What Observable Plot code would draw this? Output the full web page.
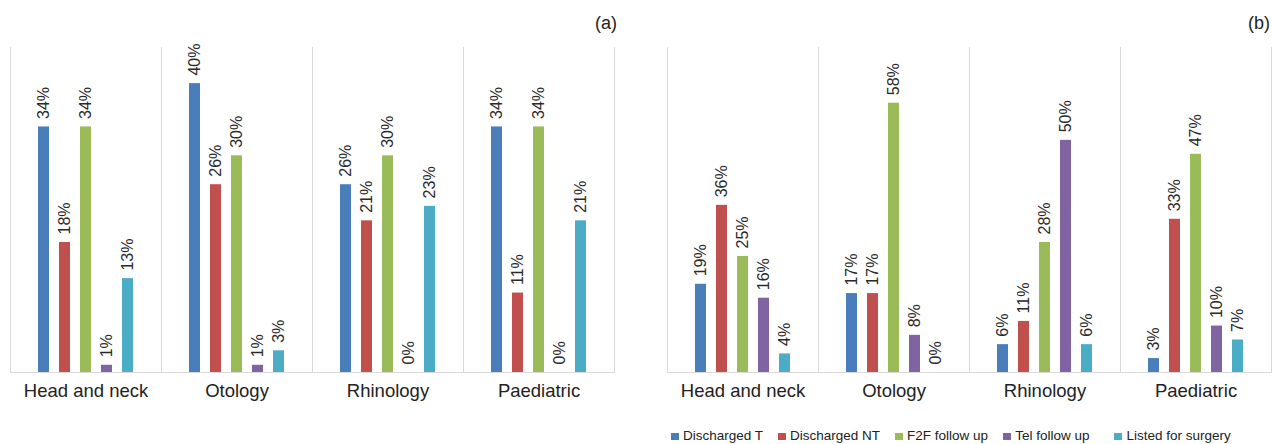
<!DOCTYPE html>
<html>
<head>
<meta charset="utf-8">
<script src="https://cdn.jsdelivr.net/npm/d3@7"></script>
<script src="https://cdn.jsdelivr.net/npm/@observablehq/plot@0.6"></script>
<style>
  html, body { margin: 0; padding: 0; background: #fff; }
  #fig { position: relative; width: 1272px; height: 444px; overflow: hidden; font-family: "Liberation Sans", Arial, sans-serif; }
  .panel { position: absolute; top: 0; }
  .tag { position: absolute; top: 14px; font-size: 18px; line-height: 18px; color: #222; }
  #legend { position: absolute; left: 671px; top: 428px; display: flex; gap: 15px; font-size: 13.5px; line-height: 16px; color: #222; white-space: nowrap; }
  #legend .item { display: flex; align-items: center; }
  #legend .item:last-child { margin-left: 10px; }
  #legend .sw { width: 8px; height: 7px; margin-right: 4px; }
</style>
</head>
<body>
<div id="fig">
  <div id="panelA" class="panel" style="left:0px"></div>
  <div id="panelB" class="panel" style="left:636px"></div>
  <div class="tag" style="left:0px; width:617px; text-align:right">(a)</div>
  <div class="tag" style="left:1248px">(b)</div>
  <div id="legend"></div>
</div>
<script>
const categories = ["Head and neck", "Otology", "Rhinology", "Paediatric"];
const series = ["Discharged T", "Discharged NT", "F2F follow up", "Tel follow up", "Listed for surgery"];
const colors = ["#4a7ebb", "#c0504d", "#9bbb59", "#8064a2", "#4bacc6"];

// values per category, in series order (percent)
const valuesA = [
  [34, 18, 34, 1, 13],
  [40, 26, 30, 1, 3],
  [26, 21, 30, 0, 23],
  [34, 11, 34, 0, 21]
];
const valuesB = [
  [19, 36, 25, 16, 4],
  [17, 17, 58, 8, 0],
  [6, 11, 28, 50, 6],
  [3, 33, 47, 10, 7]
];

function toRows(values) {
  const rows = [];
  categories.forEach((c, i) => series.forEach((s, j) => rows.push({cat: c, series: s, value: values[i][j]})));
  return rows;
}

function makePanel(values, yMax, marginLeft, marginRight) {
  const rows = toRows(values);
  return Plot.plot({
    width: 636,
    height: 410,
    marginTop: 47,
    marginBottom: 38,
    marginLeft,
    marginRight,
    style: {fontFamily: "Liberation Sans, Arial, sans-serif", fontSize: "18.5px", color: "#222", background: "transparent"},
    fx: {domain: categories, padding: 0, axis: "bottom", tickSize: 0, tickPadding: 11, label: null},
    x: {domain: series, paddingInner: 0.5, paddingOuter: 1.2, axis: null},
    y: {domain: [0, yMax], axis: null},
    color: {domain: series, range: colors},
    marks: [
      Plot.frame({anchor: "left", stroke: "#d9d9d9"}),
      Plot.frame({anchor: "right", stroke: "#d9d9d9"}),
      Plot.ruleY([0], {stroke: "#d9d9d9"}),
      Plot.barY(rows, {fx: "cat", x: "series", y: "value", fill: "series"}),
      Plot.text(rows, {
        fx: "cat", x: "series", y: "value",
        text: d => d.value + "%",
        rotate: -90, textAnchor: "start", lineAnchor: "middle",
        dy: -8, fontSize: 16, fill: "#2a2a2a"
      })
    ]
  });
}

document.getElementById("panelA").appendChild(makePanel(valuesA, 45, 9, 21));
document.getElementById("panelB").appendChild(makePanel(valuesB, 70, 31, 1));

const legend = document.getElementById("legend");
series.forEach((s, i) => {
  const item = document.createElement("div");
  item.className = "item";
  const sw = document.createElement("span");
  sw.className = "sw";
  sw.style.background = colors[i];
  const t = document.createElement("span");
  t.textContent = s;
  item.appendChild(sw);
  item.appendChild(t);
  legend.appendChild(item);
});
</script>
</body>
</html>
